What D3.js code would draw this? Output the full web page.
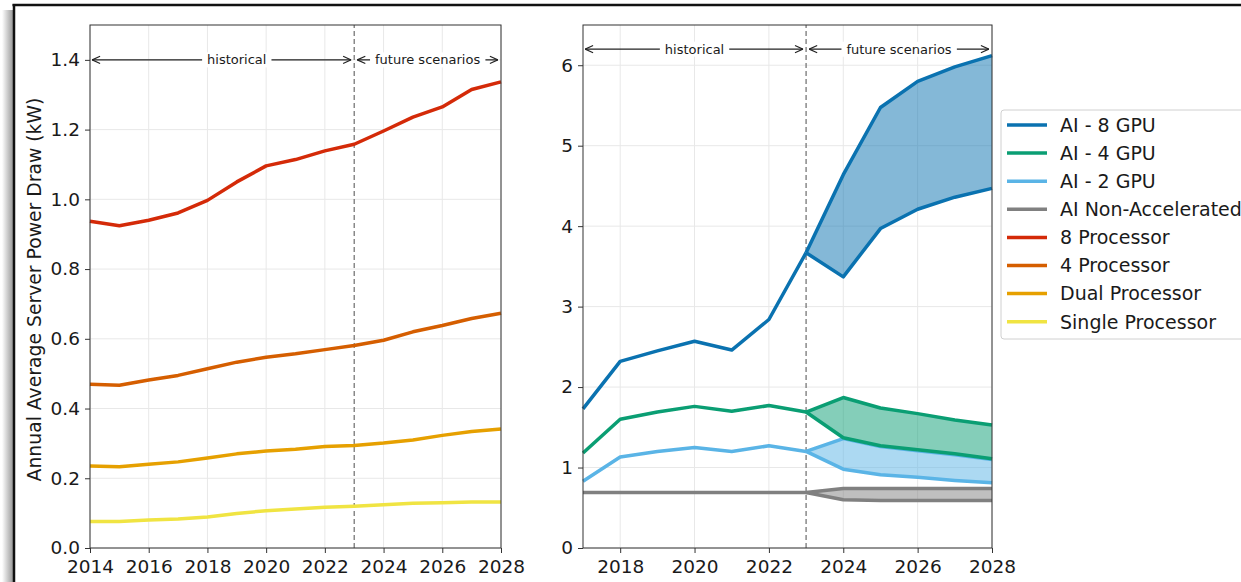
<!DOCTYPE html>
<html>
<head>
<meta charset="utf-8">
<script src="https://cdn.jsdelivr.net/npm/d3@7"></script>
<style>
  html, body { margin: 0; padding: 0; background: #fff; }
  svg { display: block; font-family: "DejaVu Sans", sans-serif; }
</style>
</head>
<body>
<svg id="chart" width="1241" height="582"></svg>
<script>
// ---- data: conventional servers (left panel) ----
const yearsLeft = [2014, 2015, 2016, 2017, 2018, 2019, 2020, 2021, 2022, 2023, 2024, 2025, 2026, 2027, 2028];
const proc8  = [0.937, 0.924, 0.940, 0.961, 0.997, 1.050, 1.096, 1.114, 1.139, 1.158, 1.196, 1.236, 1.265, 1.315, 1.337];
const proc4  = [0.470, 0.467, 0.482, 0.495, 0.514, 0.533, 0.547, 0.557, 0.569, 0.581, 0.596, 0.620, 0.638, 0.658, 0.673];
const procDual   = [0.235, 0.233, 0.240, 0.247, 0.258, 0.270, 0.278, 0.283, 0.291, 0.294, 0.301, 0.310, 0.323, 0.334, 0.341];
const procSingle = [0.076, 0.076, 0.080, 0.083, 0.089, 0.099, 0.107, 0.112, 0.117, 0.120, 0.124, 0.128, 0.130, 0.132, 0.132];

// ---- data: AI servers (right panel) ----
const yearsHist   = [2017, 2018, 2019, 2020, 2021, 2022, 2023];
const yearsFuture = [2023, 2024, 2025, 2026, 2027, 2028];
const gpu8Hist = [1.73, 2.32, 2.45, 2.57, 2.46, 2.84, 3.67];
const gpu8High = [3.67, 4.64, 5.475, 5.80, 5.98, 6.12];
const gpu8Low  = [3.67, 3.37, 3.97, 4.21, 4.36, 4.47];
const gpu4Hist = [1.18, 1.60, 1.69, 1.76, 1.70, 1.77, 1.69];
const gpu4High = [1.69, 1.87, 1.74, 1.67, 1.59, 1.53];
const gpu4Low  = [1.69, 1.37, 1.27, 1.22, 1.17, 1.11];
const gpu2Hist = [0.83, 1.13, 1.20, 1.25, 1.20, 1.27, 1.20];
const gpu2High = [1.20, 1.36, 1.26, 1.21, 1.16, 1.10];
const gpu2Low  = [1.20, 0.98, 0.91, 0.88, 0.84, 0.81];
const nonAccHist = [0.69, 0.69, 0.69, 0.69, 0.69, 0.69, 0.69];
const nonAccHigh = [0.69, 0.74, 0.74, 0.74, 0.74, 0.74];
const nonAccLow  = [0.69, 0.60, 0.59, 0.59, 0.59, 0.59];

// ---- tick values ----
const leftXTicks  = [2014, 2016, 2018, 2020, 2022, 2024, 2026, 2028];
const leftYTicks  = [0.0, 0.2, 0.4, 0.6, 0.8, 1.0, 1.2, 1.4];
const rightXTicks = [2018, 2020, 2022, 2024, 2026, 2028];
const rightYTicks = [0, 1, 2, 3, 4, 5, 6];

// ---- legend ----
const legendLabels = ["AI - 8 GPU", "AI - 4 GPU", "AI - 2 GPU", "AI Non-Accelerated",
                      "8 Processor", "4 Processor", "Dual Processor", "Single Processor"];
const colors = {
  gpu8: "#0a72b0", gpu4: "#0a9e73", gpu2: "#5ab4e6", nonAcc: "#808080",
  p8: "#d42a08", p4: "#d55e00", dual: "#e6a000", single: "#f0e442"
};
const legendColors = [colors.gpu8, colors.gpu4, colors.gpu2, colors.nonAcc,
                      colors.p8, colors.p4, colors.dual, colors.single];

const svg = d3.select("#chart");
const TXT = "#1a1a1a";
const LW = 3.5;

// ---- page frame with shadow ----
const defs = svg.append("defs");
const grad = defs.append("linearGradient").attr("id", "shadow").attr("x1", 0).attr("x2", 1);
grad.append("stop").attr("offset", 0).attr("stop-color", "#fff");
grad.append("stop").attr("offset", 1).attr("stop-color", "#9a9a9a");
svg.append("rect").attr("x", 2).attr("y", 10).attr("width", 11).attr("height", 572).attr("fill", "url(#shadow)");
svg.append("line").attr("x1", 12.5).attr("x2", 1241).attr("y1", 5).attr("y2", 5)
  .attr("stroke", "#111").attr("stroke-width", 2.5);
svg.append("line").attr("x1", 14).attr("x2", 14).attr("y1", 4).attr("y2", 582)
  .attr("stroke", "#111").attr("stroke-width", 2.5);

// arrow markers (open heads, like '<->')
function addMarker(id, orient) {
  defs.append("marker").attr("id", id)
    .attr("viewBox", "0 0 10 10").attr("refX", 10).attr("refY", 5)
    .attr("markerWidth", 9).attr("markerHeight", 9).attr("markerUnits", "userSpaceOnUse")
    .attr("orient", orient)
    .append("path").attr("d", "M1,1 L10,5 L1,9").attr("fill", "none")
    .attr("stroke", "#222").attr("stroke-width", 1.3);
}
addMarker("arrowEnd", "auto");
addMarker("arrowStart", "auto-start-reverse");

function drawPanel(opts) {
  const { x, y, xTicks, yTicks, yFmt } = opts;
  const g = svg.append("g");
  const [x0, x1] = x.range();
  const [y0, y1] = y.range();

  // grid
  g.append("g").selectAll("line").data(xTicks).join("line")
    .attr("x1", d => x(d)).attr("x2", d => x(d)).attr("y1", y0).attr("y2", y1)
    .attr("stroke", "#e8e8e8").attr("stroke-width", 1);
  g.append("g").selectAll("line").data(yTicks).join("line")
    .attr("x1", x0).attr("x2", x1).attr("y1", d => y(d)).attr("y2", d => y(d))
    .attr("stroke", "#e8e8e8").attr("stroke-width", 1);

  // axes
  const xa = g.append("g").attr("transform", `translate(0,${y0})`)
    .call(d3.axisBottom(x).tickValues(xTicks).tickFormat(d3.format("d")).tickSize(5).tickPadding(7));
  const ya = g.append("g").attr("transform", `translate(${x0},0)`)
    .call(d3.axisLeft(y).tickValues(yTicks).tickFormat(yFmt).tickSize(5).tickPadding(5));
  [xa, ya].forEach(a => {
    a.select(".domain").remove();
    a.selectAll("line").attr("stroke", "#333");
    a.selectAll("text").attr("fill", TXT).style("font-size", "18.5px").style("font-family", "DejaVu Sans");
  });

  // dashed divider at 2023
  g.append("line").attr("x1", x(2023)).attr("x2", x(2023)).attr("y1", y0).attr("y2", y1)
    .attr("stroke", "#777").attr("stroke-width", 1.3).attr("stroke-dasharray", "5,3");

  return g;
}

function spines(x, y) {
  const [x0, x1] = x.range();
  const [y0, y1] = y.range();
  svg.append("rect").attr("x", x0).attr("y", y1).attr("width", x1 - x0).attr("height", y0 - y1)
    .attr("fill", "none").attr("stroke", "#333").attr("stroke-width", 1);
}

function annotateSpan(xs, xe, yPos, textX, label) {
  svg.append("line").attr("x1", xs).attr("x2", xe).attr("y1", yPos).attr("y2", yPos)
    .attr("stroke", "#222").attr("stroke-width", 1.2)
    .attr("marker-start", "url(#arrowStart)").attr("marker-end", "url(#arrowEnd)");
  const t = svg.append("text").attr("x", textX).attr("y", yPos).attr("dy", "0.35em")
    .attr("text-anchor", "middle").attr("fill", TXT).style("font-size", "13px").text(label);
  const bb = t.node().getBBox();
  svg.insert("rect", () => t.node()).attr("x", bb.x - 5).attr("y", bb.y).attr("width", bb.width + 10)
    .attr("height", bb.height).attr("fill", "#fff");
}

// ================= left panel =================
const xL = d3.scaleLinear().domain([2014, 2028]).range([90, 501]);
const yL = d3.scaleLinear().domain([0, 1.5]).range([548, 25]);
const gL = drawPanel({ x: xL, y: yL, xTicks: leftXTicks, yTicks: leftYTicks, yFmt: d3.format(".1f") });

const lineL = d3.line().x((d, i) => xL(yearsLeft[i])).y(d => yL(d));
[[procSingle, colors.single], [procDual, colors.dual], [proc4, colors.p4], [proc8, colors.p8]]
  .forEach(([vals, c]) => {
    gL.append("path").datum(vals).attr("d", lineL).attr("fill", "none")
      .attr("stroke", c).attr("stroke-width", LW).attr("stroke-linejoin", "round");
  });
spines(xL, yL);

annotateSpan(xL(2014) + 2, xL(2023) - 3, yL(1.4), xL(2019), "historical");
annotateSpan(xL(2023) + 3, xL(2028) - 3, yL(1.4), xL(2025.5), "future scenarios");

svg.append("text").attr("transform", `translate(34,${(548 + 25) / 2 + 3}) rotate(-90)`)
  .attr("text-anchor", "middle").attr("dy", "0.35em").attr("fill", TXT)
  .style("font-size", "18.8px").text("Annual Average Server Power Draw (kW)");

// ================= right panel =================
const xR = d3.scaleLinear().domain([2017, 2028]).range([583, 992]);
const yR = d3.scaleLinear().domain([0, 6.5]).range([548, 25]);
const gR = drawPanel({ x: xR, y: yR, xTicks: rightXTicks, yTicks: rightYTicks, yFmt: d3.format("d") });

const histLine = d3.line().x((d, i) => xR(yearsHist[i])).y(d => yR(d));
const futLine  = d3.line().x((d, i) => xR(yearsFuture[i])).y(d => yR(d));
const band = d3.area().x((d, i) => xR(yearsFuture[i])).y0(d => yR(d[0])).y1(d => yR(d[1]));

const aiSeries = [
  { hist: nonAccHist, high: nonAccHigh, low: nonAccLow, c: colors.nonAcc },
  { hist: gpu2Hist, high: gpu2High, low: gpu2Low, c: colors.gpu2 },
  { hist: gpu4Hist, high: gpu4High, low: gpu4Low, c: colors.gpu4 },
  { hist: gpu8Hist, high: gpu8High, low: gpu8Low, c: colors.gpu8 }
];
aiSeries.forEach(s => {
  gR.append("path").datum(s.low.map((v, i) => [v, s.high[i]])).attr("d", band)
    .attr("fill", s.c).attr("fill-opacity", 0.5);
  [[s.hist, histLine], [s.high, futLine], [s.low, futLine]].forEach(([vals, gen]) => {
    gR.append("path").datum(vals).attr("d", gen).attr("fill", "none")
      .attr("stroke", s.c).attr("stroke-width", LW).attr("stroke-linejoin", "round");
  });
});
spines(xR, yR);

annotateSpan(xR(2017) + 2, xR(2023) - 3, yR(6.2), xR(2020), "historical");
annotateSpan(xR(2023) + 3, xR(2028) - 3, yR(6.2), xR(2025.5), "future scenarios");

// ================= legend =================
const lg = svg.append("g");
lg.append("rect").attr("x", 1001).attr("y", 110).attr("width", 260).attr("height", 229)
  .attr("rx", 3).attr("fill", "#fff").attr("stroke", "#d0d0d0").attr("stroke-width", 1);
legendLabels.forEach((lab, i) => {
  const yy = 125 + i * 28.1;
  lg.append("line").attr("x1", 1007).attr("x2", 1047).attr("y1", yy).attr("y2", yy)
    .attr("stroke", legendColors[i]).attr("stroke-width", LW);
  lg.append("text").attr("x", 1060).attr("y", yy).attr("dy", "0.36em").attr("fill", TXT)
    .style("font-size", "19px").text(lab);
});
</script>
</body>
</html>
